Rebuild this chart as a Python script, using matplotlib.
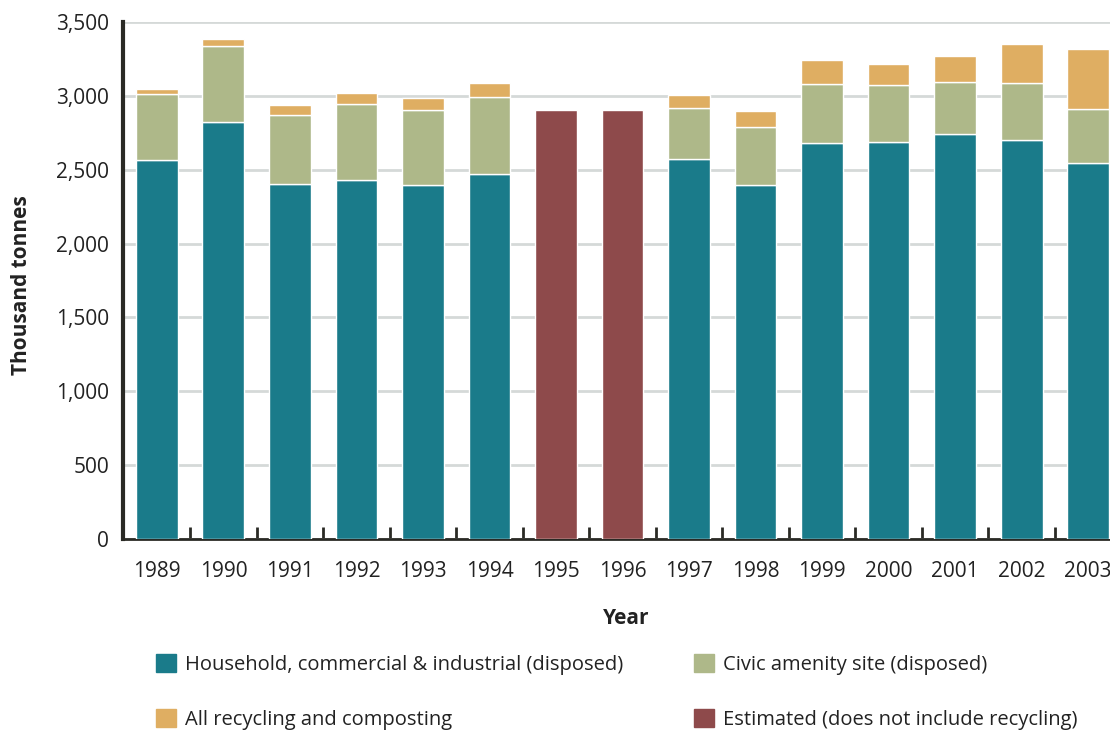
import numpy as np
import matplotlib
matplotlib.use("Agg")
import matplotlib.pyplot as plt
from matplotlib.patches import Patch

plt.rcParams['font.family'] = ['Open Sans', 'DejaVu Sans']

years = ['1989', '1990', '1991', '1992', '1993', '1994', '1995', '1996',
         '1997', '1998', '1999', '2000', '2001', '2002', '2003']
# thousand tonnes, NaN where only an estimate exists
household = [2566, 2823, 2403, 2431, 2397, 2471, np.nan, np.nan,
             2573, 2397, 2681, 2688, 2742, 2701, 2546]
civic = [447, 515, 468, 514, 508, 522, np.nan, np.nan,
         345, 392, 399, 386, 352, 386, 365]
recycling = [34, 47, 67, 75, 81, 94, np.nan, np.nan,
             88, 109, 163, 142, 176, 264, 406]
estimated = [np.nan] * 6 + [2905, 2905] + [np.nan] * 7

c_house = '#1a7b8a'
c_civic = '#aeb889'
c_recyc = '#dfae62'
c_est = '#8e4a4b'
dark = '#2a2a25'

household = np.array(household)
civic = np.array(civic)
recycling = np.array(recycling)
estimated = np.array(estimated)
x = np.arange(len(years))
w = 0.63

fig = plt.figure(figsize=(11.1, 7.31), dpi=100)
ax = fig.add_axes([123 / 1110, 192 / 731, 999 / 1110, 517 / 731])

kw = dict(width=w, edgecolor='white', linewidth=1, zorder=3)
ax.bar(x, household, color=c_house, **kw)
ax.bar(x, civic, bottom=household, color=c_civic, **kw)
ax.bar(x, recycling, bottom=household + civic, color=c_recyc, **kw)
ax.bar(x, estimated, color=c_est, **kw)

ax.set_xlim(-0.51, len(years) - 0.49)
ax.set_ylim(0, 3500)
ax.set_yticks(np.arange(0, 3501, 500))
ax.set_yticklabels([f'{v:,}' for v in range(0, 3501, 500)])
ax.yaxis.grid(True, color='#d5d9d8', linewidth=2)
ax.set_axisbelow(True)

# small ticks between the bars, labels under the bar centres
ax.set_xticks(x[:-1] + 0.5)
ax.set_xticklabels([])
ax.set_xticks(x, minor=True)
ax.set_xticklabels(years, minor=True)
ax.tick_params(axis='x', which='major', direction='in', length=9, width=2, color=dark)
ax.tick_params(axis='x', which='minor', length=0, pad=16, labelsize=15, labelcolor='#222222')
ax.tick_params(axis='y', length=0, pad=10, labelsize=15, labelcolor='#222222')

for s in ['top', 'right']:
    ax.spines[s].set_visible(False)
ax.spines['left'].set_linewidth(3)
ax.spines['left'].set_color(dark)
ax.spines['bottom'].set_linewidth(2)
ax.spines['bottom'].set_color(dark)

fig.text(22 / 1110, 1 - 285 / 731, 'Thousand tonnes', rotation=90, ha='center', va='center',
         fontsize=15, fontweight='bold', color='#222222')
fig.text(626 / 1110, 1 - 618 / 731, 'Year', ha='center', va='center',
         fontsize=15, fontweight='bold', color='#222222')

handles = [Patch(color=c_house), Patch(color=c_recyc), Patch(color=c_civic), Patch(color=c_est)]
labels = ['Household, commercial & industrial (disposed)', 'All recycling and composting',
          'Civic amenity site (disposed)', 'Estimated (does not include recycling)']
fig.legend(handles, labels, loc='upper left', bbox_to_anchor=(156 / 1110, 1 - 654 / 731),
           ncol=2, frameon=False, fontsize=14.5, handlelength=1.0, handleheight=1.0,
           handletextpad=0.45, labelspacing=1.7, columnspacing=3.5, borderpad=0,
           borderaxespad=0, labelcolor='#222222')

fig.savefig('out.png', dpi=100)
